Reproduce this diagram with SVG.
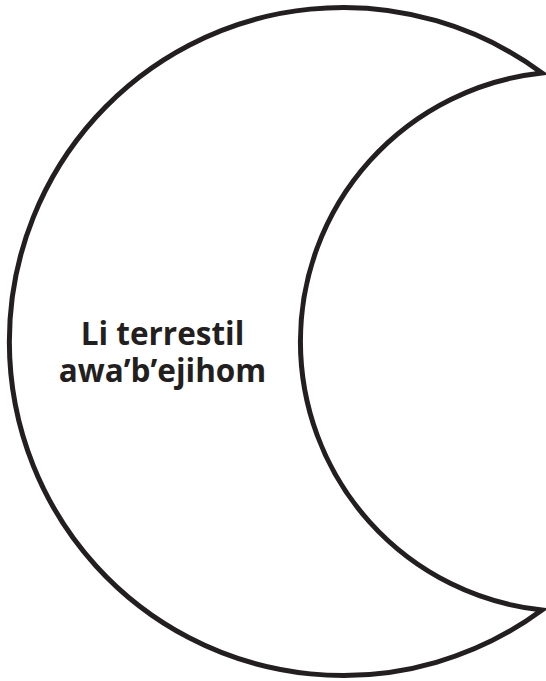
<svg xmlns="http://www.w3.org/2000/svg" width="546" height="681" viewBox="0 0 546 681">
<style>
.moon{fill:#fff;stroke:#231f20;stroke-width:5;stroke-linejoin:miter;stroke-miterlimit:20}
.lbl{font-family:"Open Sans","DejaVu Sans",sans-serif;font-weight:bold;font-size:31.5px;fill:#231f20;text-anchor:middle}
</style>
<rect width="546" height="681" fill="#fff"/>
<g id="moon">
<path class="moon" d="M542,73 A334,334 0 1 0 542,610 A270,270 0 0 1 542,73 Z"/>
<text class="lbl" x="162.5" y="345">Li terrestil</text>
<text class="lbl" x="162.5" y="381.5">awa’b’ejihom</text>
</g>
</svg>
